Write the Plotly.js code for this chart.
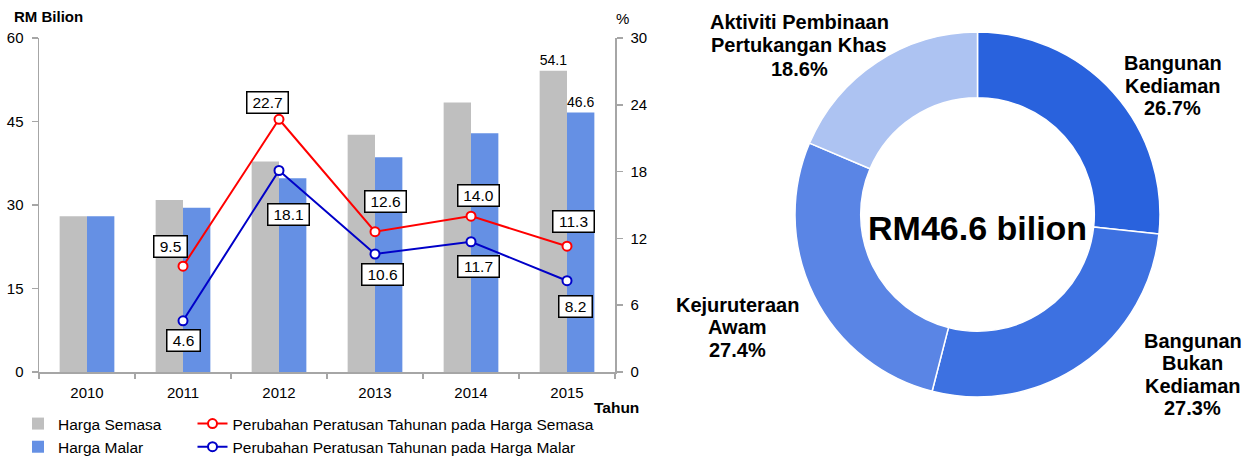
<!DOCTYPE html>
<html>
<head>
<meta charset="utf-8">
<script src="https://cdn.plot.ly/plotly-3.0.1.min.js"></script>
<style>html,body{margin:0;padding:0;background:#fff;}#chart{width:1254px;height:459px;}</style>
</head>
<body>
<div id="chart"></div>
<script>
// ---------- data ----------
const years = ['2010', '2011', '2012', '2013', '2014', '2015'];
const hargaSemasa = [28.0, 30.9, 37.8, 42.6, 48.4, 54.1];
const hargaMalar = [28.0, 29.5, 34.8, 38.6, 42.9, 46.6];
const yearsPct = ['2011', '2012', '2013', '2014', '2015'];
const pctSemasa = [9.5, 22.7, 12.6, 14.0, 11.3];
const pctMalar = [4.6, 18.1, 10.6, 11.7, 8.2];
const seriesNames = ['Harga Semasa', 'Harga Malar',
  'Perubahan Peratusan Tahunan pada Harga Semasa',
  'Perubahan Peratusan Tahunan pada Harga Malar'];
const pieLabels = ['Bangunan<br>Kediaman', 'Bangunan<br>Bukan<br>Kediaman',
  'Kejuruteraan<br>Awam', 'Aktiviti Pembinaan<br>Pertukangan Khas'];
const pieValues = [26.7, 27.3, 27.4, 18.6];
const pieCenterText = 'RM46.6 bilion';
const leftAxisTitle = 'RM Bilion';
const rightAxisTitle = '%';
const xAxisTitle = 'Tahun';

// ---------- layout helpers (pixel positions) ----------
const W = 1254, H = 459;
const px = x => x / W;
const py = y => 1 - y / H;
const FONT = 'Liberation Sans, Arial, sans-serif';

const grey = '#BFBFBF', blueBar = '#6590E4';
const red = '#FF0000', blueLine = '#0000C8';
const axisCol = '#A6A6A6';
const pieColors = ['#2962DD', '#3D71E1', '#5A85E5', '#ADC3F2'];

// label box offsets (px) relative to point: [dx, dy]
const semasaOffsets = [[-13, -20], [-12, -17], [10, -30], [7, -21], [6, -25]];
const malarOffsets = [[0, 20], [9, 44], [7, 21], [7, 25], [8, 26]];

const traces = [
  {
    type: 'bar', x: years, y: hargaSemasa, name: seriesNames[0],
    marker: {color: grey}, legend: 'legend',
    text: hargaSemasa.map((v, i) => i === hargaSemasa.length - 1 ? v.toFixed(1) : ''),
    textposition: 'outside', cliponaxis: false,
    textfont: {family: FONT, size: 15.5, color: '#000'}
  },
  {
    type: 'bar', x: years, y: hargaMalar, name: seriesNames[1],
    marker: {color: blueBar}, legend: 'legend',
    text: hargaMalar.map((v, i) => i === hargaMalar.length - 1 ? v.toFixed(1) : ''),
    textposition: 'outside', cliponaxis: false,
    textfont: {family: FONT, size: 15.5, color: '#000'}
  },
  {
    type: 'scatter', mode: 'lines+markers', x: yearsPct, y: pctSemasa, yaxis: 'y2',
    name: seriesNames[2], legend: 'legend2', cliponaxis: false,
    line: {color: red, width: 2},
    marker: {symbol: 'circle', size: 9, color: '#fff', line: {color: red, width: 2}}
  },
  {
    type: 'scatter', mode: 'lines+markers', x: yearsPct, y: pctMalar, yaxis: 'y2',
    name: seriesNames[3], legend: 'legend2', cliponaxis: false,
    line: {color: blueLine, width: 2},
    marker: {symbol: 'circle', size: 9, color: '#fff', line: {color: blueLine, width: 2}}
  },
  {
    type: 'pie', labels: pieLabels, values: pieValues, sort: false,
    direction: 'clockwise', rotation: 0, hole: 0.64,
    marker: {colors: pieColors, line: {color: '#fff', width: 1.5}},
    textinfo: 'none', showlegend: false,
    domain: {x: [px(795), px(1160)], y: [py(397), py(32)]}
  }
];

const annotations = [];
function boxLabel(yr, y, text, off) {
  annotations.push({
    x: years.indexOf(yr), y: y, xref: 'x', yref: 'y2', text: text, showarrow: false,
    xshift: off[0], yshift: -off[1], xanchor: 'center', yanchor: 'middle',
    bgcolor: '#fff', bordercolor: '#000', borderwidth: 1.5, borderpad: 1,
    width: text.length >= 4 ? 38 : 30, height: 18,
    font: {family: FONT, size: 15.5, color: '#000'}
  });
}
yearsPct.forEach((yr, i) => boxLabel(yr, pctSemasa[i], pctSemasa[i].toFixed(1), semasaOffsets[i]));
yearsPct.forEach((yr, i) => boxLabel(yr, pctMalar[i], pctMalar[i].toFixed(1), malarOffsets[i]));

function textAt(x, baseline, text, size, bold, anchor) {
  annotations.push({
    x: px(x), y: py(baseline - 0.35 * size), xref: 'paper', yref: 'paper',
    text: bold ? '<b>' + text + '</b>' : text, showarrow: false,
    xanchor: anchor || 'center', yanchor: 'middle',
    font: {family: FONT, size: size, color: '#000'}
  });
}
// axis titles
textAt(12, 22, leftAxisTitle, 15, true, 'left');
textAt(622, 24, rightAxisTitle, 15, false);
textAt(616, 412.7, xAxisTitle, 15.5, true);
// pie centre
textAt(977.5, 240, pieCenterText, 34, true);
// pie labels
const pieLabelPos = [
  {x: 1172.5, b: 70, step: 22.5},
  {x: 1192.5, b: 348, step: 22.4},
  {x: 737, b: 311.5, step: 22.8},
  {x: 799, b: 29, step: 23.5}
];
pieLabels.forEach((lab, i) => {
  const lines = lab.split('<br>').concat([pieValues[i].toFixed(1) + '%']);
  const p = pieLabelPos[i];
  lines.forEach((ln, j) => textAt(p.x, p.b + j * p.step, ln, 20, true));
});

const layout = {
  width: W, height: H,
  margin: {l: 0, r: 0, t: 0, b: 0, pad: 0, autoexpand: false},
  paper_bgcolor: '#fff', plot_bgcolor: 'rgba(0,0,0,0)',
  font: {family: FONT, size: 15, color: '#000'},
  barmode: 'group', bargap: 0.43, bargroupgap: 0,
  showlegend: true,
  xaxis: {
    domain: [px(39), px(615)], type: 'category', tickson: 'boundaries',
    categoryorder: 'array', categoryarray: years,
    range: [-0.5, years.length - 0.5], autorange: false,
    showline: true, linecolor: axisCol, linewidth: 1.5,
    ticks: 'outside', ticklen: 5, tickcolor: axisCol, tickwidth: 1.5,
    showgrid: false, zeroline: false, tickangle: 0, automargin: false,
    tickfont: {family: FONT, size: 15, color: '#000'}, ticklabelstandoff: 6
  },
  yaxis: {
    domain: [py(372), py(38)], range: [0, 60], autorange: false, dtick: 15,
    showline: true, linecolor: axisCol, linewidth: 1.5,
    ticks: 'outside', ticklen: 6, tickcolor: axisCol, tickwidth: 1.5,
    showgrid: false, zeroline: false, automargin: false,
    tickfont: {family: FONT, size: 15, color: '#000'}, ticklabelstandoff: 5
  },
  yaxis2: {
    overlaying: 'y', side: 'right', range: [0, 30], autorange: false, dtick: 6,
    showline: true, linecolor: axisCol, linewidth: 1.5,
    ticks: 'outside', ticklen: 6, tickcolor: axisCol, tickwidth: 1.5,
    showgrid: false, zeroline: false, automargin: false,
    tickfont: {family: FONT, size: 15, color: '#000'}, ticklabelstandoff: 5
  },
  legend: {
    x: px(18), y: py(407), xanchor: 'left', yanchor: 'top',
    orientation: 'v', bgcolor: 'rgba(0,0,0,0)', tracegroupgap: 0,
    font: {family: FONT, size: 15.5, color: '#000'}
  },
  legend2: {
    x: px(192.5), y: py(407), xanchor: 'left', yanchor: 'top',
    orientation: 'v', bgcolor: 'rgba(0,0,0,0)', tracegroupgap: 0,
    font: {family: FONT, size: 15.5, color: '#000'}
  },
  annotations: annotations
};

Plotly.newPlot('chart', traces, layout, {staticPlot: true, displayModeBar: false});
</script>
</body>
</html>
